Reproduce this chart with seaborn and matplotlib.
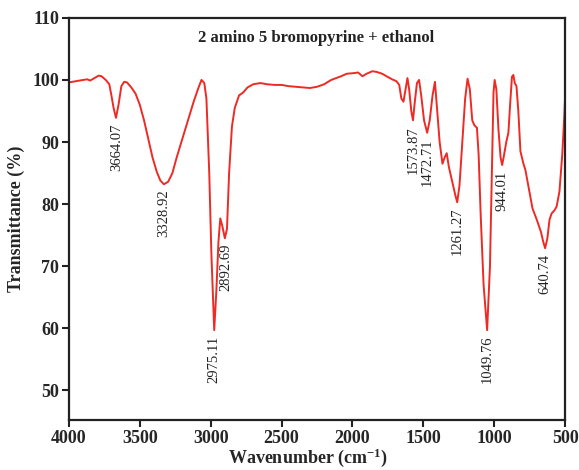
import matplotlib
matplotlib.use("Agg")
import matplotlib.pyplot as plt
import seaborn as sns
import pandas as pd

wavenumber = [4000, 3950, 3900, 3870, 3850, 3820, 3790, 3770, 3740, 3715, 3700, 3685, 3668, 3650, 3630,
              3610, 3590, 3560, 3530, 3500, 3470, 3440, 3410, 3380, 3355, 3330, 3300, 3270, 3240, 3200,
              3160, 3120, 3090, 3065, 3045, 3030, 3010, 2995, 2975, 2960, 2945, 2932, 2918, 2900, 2885,
              2870, 2850, 2830, 2800, 2770, 2740, 2700, 2650, 2600, 2550, 2500, 2450, 2400, 2300, 2250,
              2200, 2150, 2080, 2040, 1990, 1960, 1930, 1900, 1860, 1830, 1790, 1760, 1720, 1690, 1670,
              1655, 1640, 1625, 1612, 1600, 1585, 1573, 1560, 1545, 1530, 1515, 1495, 1473, 1455, 1435,
              1418, 1405, 1385, 1365, 1350, 1335, 1320, 1295, 1275, 1261, 1245, 1225, 1205, 1188, 1172,
              1155, 1140, 1122, 1110, 1095, 1075, 1050, 1030, 1015, 1005, 997, 985, 970, 955, 944,
              930, 915, 900, 888, 875, 865, 855, 843, 830, 815, 795, 780, 760, 730, 700,
              670, 655, 641, 625, 610, 595, 575, 560, 540, 520, 505, 500]
transmittance = [99.6, 99.8, 100.0, 100.1, 99.9, 100.3, 100.7, 100.6, 100.0, 99.3, 97.5, 95.5, 93.9, 96.0, 99.0,
                 99.7, 99.6, 98.8, 97.8, 96.0, 93.5, 90.5, 87.5, 85.2, 83.8, 83.2, 83.6, 85.0, 87.5, 90.5,
                 93.5, 96.5, 98.5, 100.0, 99.5, 97.0, 85.0, 72.0, 59.7, 66.0, 74.0, 77.7, 76.5, 74.5, 76.0,
                 85.0, 92.5, 95.5, 97.5, 98.0, 98.8, 99.3, 99.5, 99.3, 99.2, 99.2, 99.0, 98.9, 98.7, 98.9,
                 99.3, 100.0, 100.6, 101.0, 101.1, 101.2, 100.6, 101.0, 101.4, 101.3, 101.0, 100.6, 100.1, 99.8, 99.2,
                 97.0, 96.5, 98.5, 100.3, 98.5, 95.0, 93.5, 96.5, 99.5, 100.0, 97.5, 93.5, 91.5, 93.5, 97.5,
                 99.7, 96.0, 90.0, 86.5, 87.5, 88.2, 86.0, 83.5, 81.5, 80.3, 83.0, 90.0, 97.0, 100.2, 98.5,
                 93.5, 92.7, 92.3, 88.0, 78.0, 67.0, 59.7, 70.0, 87.0, 98.0, 100.0, 98.5, 92.0, 87.5, 86.3,
                 88.0, 90.0, 91.5, 96.0, 100.5, 100.8, 99.5, 99.0, 95.0, 88.5, 86.6, 85.5, 83.0, 79.3, 77.5,
                 75.5, 74.0, 72.9, 74.5, 77.5, 78.5, 79.0, 79.6, 82.0, 88.0, 94.5, 97.3]

peak_positions = [3664.07, 3328.92, 2975.11, 2892.69, 1573.87, 1472.71, 1261.27, 1049.76, 944.01, 640.74]
peak_labels = ["3664.07", "3328.92", "2975.11", "2892.69", "1573.87", "1472.71", "1261.27", "1049.76", "944.01", "640.74"]
peak_values = [93.9, 83.2, 59.7, 74.5, 93.5, 91.5, 80.3, 59.7, 86.3, 72.9]

title_text = "2 amino 5 bromopyrine + ethanol"
x_ticks = [4000, 3500, 3000, 2500, 2000, 1500, 1000, 500]
y_ticks = [50, 60, 70, 80, 90, 100, 110]

sns.set_style("ticks")
plt.rcParams['font.family'] = ['Liberation Serif', 'DejaVu Serif']
plt.rcParams['mathtext.fontset'] = 'custom'
plt.rcParams['mathtext.rm'] = 'Liberation Serif:bold'
plt.rcParams['mathtext.bf'] = 'Liberation Serif:bold'
plt.rcParams['mathtext.default'] = 'bf'

df = pd.DataFrame({"wavenumber": wavenumber, "T": transmittance})

fig = plt.figure(figsize=(5.79, 4.70), dpi=100)
ax = fig.add_axes([0.119, 0.106, 0.857, 0.856])
sns.lineplot(data=df, x="wavenumber", y="T", ax=ax, color="#ee2a24", linewidth=1.4)

ax.set_xlim(4000, 500)
ax.set_ylim(45.2, 110)
ax.set_xticks(x_ticks)
ax.set_yticks(y_ticks)
for lbl in ax.get_xticklabels() + ax.get_yticklabels():
    lbl.set_fontweight("bold")
    lbl.set_fontsize(13)
ax.tick_params(axis='both', direction='out', length=5, width=1.5, color='#222222', pad=2)
for s in ax.spines.values():
    s.set_linewidth(1.6)
    s.set_color('#222222')

ax.set_xlabel(r"Wavenumber (cm$^{-1}$)", fontsize=13, fontweight="bold", labelpad=1)
ax.xaxis.set_label_coords(0.482, -0.066)
ax.set_ylabel("Transmittance (%)", fontsize=13, fontweight="bold", labelpad=5)

ax.text(0.498, 0.950, title_text, transform=ax.transAxes, ha="center", va="center",
        fontsize=12, fontweight="bold", color="#222222")

for pos, lab, val in zip(peak_positions, peak_labels, peak_values):
    ax.text(pos, val - 0.9, lab, rotation=90, ha="center", va="top", fontsize=10.5, color="#222222")

fig.savefig("out.png", dpi=100)
